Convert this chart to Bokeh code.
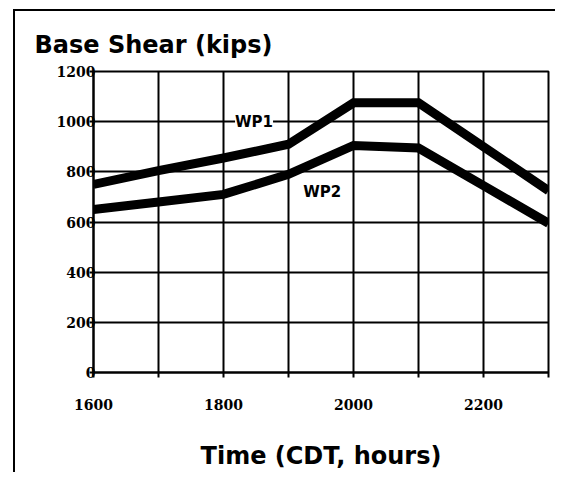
from bokeh.plotting import figure
from bokeh.models import FixedTicker, Range1d, Label, InlineStyleSheet
from bokeh.embed import file_html
from bokeh.resources import INLINE

# ---- data ----
hours = [1600, 1700, 1800, 1900, 2000, 2100, 2200, 2300]
wp1 = [750, 805, 855, 910, 1075, 1075, 900, 725]
wp2 = [650, 680, 710, 790, 905, 895, 745, 595]
x_ticks = [1600, 1700, 1800, 1900, 2000, 2100, 2200, 2300]
x_tick_labels = ["1600", "", "1800", "", "2000", "", "2200", ""]
y_ticks = [0, 200, 400, 600, 800, 1000, 1200]
series_names = ["WP1", "WP2"]
label_x = [1847, 1952]
label_y = [1000, 720]

title_text = "Base Shear (kips)"
x_title = "Time (CDT, hours)"

p = figure(width=553, height=473,
           x_range=Range1d(1600, 2300), y_range=Range1d(0, 1200),
           output_backend="svg", toolbar_location=None,
           min_border_left=93, min_border_right=5,
           min_border_top=71, min_border_bottom=101)

# outer page frame (left and top rules of the scanned figure box)
p.stylesheets = [InlineStyleSheet(css="""
:host::before {
  content: ""; position: absolute; left: 13px; top: 9px;
  width: 540px; height: 461px;
  border-left: 2px solid black; border-top: 2px solid black;
  z-index: 10; pointer-events: none;
}
""")]

p.title.text = title_text
p.title.text_font = "DejaVu Sans"
p.title.text_font_size = "24px"
p.title.text_font_style = "bold"
p.title.text_color = "black"
p.title.align = "left"
p.title.offset = -59
p.title.standoff = 26

p.outline_line_color = "black"
p.outline_line_width = 2

for ax in (p.xaxis[0], p.yaxis[0]):
    ax.axis_line_color = "black"
    ax.axis_line_width = 2
    ax.major_tick_line_color = "black"
    ax.major_tick_line_width = 2
    ax.minor_tick_line_color = None
    ax.major_tick_in = 0
    ax.major_label_text_font = "DejaVu Serif"
    ax.major_label_text_font_style = "bold"
    ax.major_label_text_font_size = "14px"
    ax.major_label_text_color = "black"

p.xaxis.ticker = FixedTicker(ticks=x_ticks)
p.xaxis.major_label_overrides = {t: s for t, s in zip(x_ticks, x_tick_labels)}
p.xaxis.major_tick_out = 5
p.xaxis.major_label_standoff = 21
p.xaxis.axis_label = x_title
p.xaxis.axis_label_text_font = "DejaVu Sans"
p.xaxis.axis_label_text_font_size = "24px"
p.xaxis.axis_label_text_font_style = "bold"
p.xaxis.axis_label_text_color = "black"
p.xaxis.axis_label_standoff = 29

p.yaxis.ticker = FixedTicker(ticks=y_ticks)
p.yaxis.major_tick_out = 4
p.yaxis.major_label_standoff = -6

p.xgrid.ticker = FixedTicker(ticks=x_ticks)
p.ygrid.ticker = FixedTicker(ticks=y_ticks)
for g in (p.xgrid[0], p.ygrid[0]):
    g.grid_line_color = "black"
    g.grid_line_width = 2
    g.grid_line_alpha = 1

p.line(hours, wp1, line_color="black", line_width=9, line_join="miter")
p.line(hours, wp2, line_color="black", line_width=9, line_join="miter")

for name, lx, ly in zip(series_names, label_x, label_y):
    p.add_layout(Label(x=lx, y=ly, text=name, text_align="center",
                       text_baseline="middle", text_font="DejaVu Sans",
                       text_font_size="15px", text_font_style="bold",
                       text_color="black", background_fill_color="white",
                       background_fill_alpha=1))

open("out.html", "w").write(file_html(p, INLINE))
